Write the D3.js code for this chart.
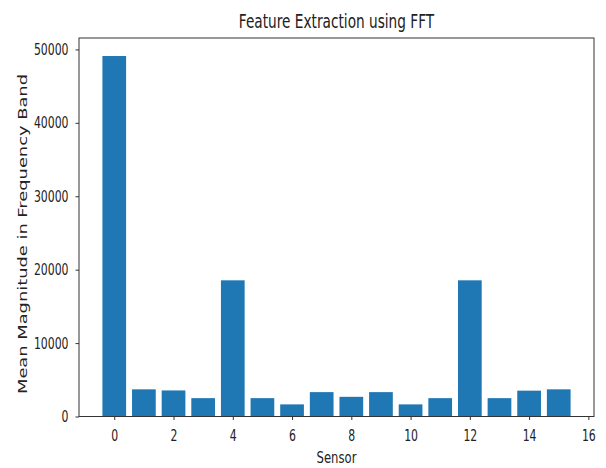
<!DOCTYPE html>
<html>
<head>
<meta charset="utf-8">
<script src="https://cdn.jsdelivr.net/npm/d3@7"></script>
<style>
  body { margin: 0; background: #fff; }
  text { font-family: "DejaVu Sans", sans-serif; fill: #222; }
</style>
</head>
<body>
<div id="app"></div>
<script>
(function (d3) {
  'use strict'

  // values
  const sensors = d3.range(16)
  const magnitudes = [49100, 3700, 3550, 2500, 18550, 2500, 1650, 3320, 2680, 3320, 1650, 2500, 18550, 2500, 3520, 3700]
  const xTicks = [0, 2, 4, 6, 8, 10, 12, 14, 16]
  const yTicks = [0, 10000, 20000, 30000, 40000, 50000]

  const w = 606
  const h = 468
  const m = { left: 79, right: 12, top: 38, bottom: 51.5 }
  const barWidth = 0.8

  const svg = d3.select('#app')
    .append('svg')
    .attr('width', w)
    .attr('height', h)

  // squeeze text horizontally like the reference
  const squeeze = function (sel, f) {
    sel.each(function () {
      const len = this.getComputedTextLength()
      this.setAttribute('textLength', len * f)
      this.setAttribute('lengthAdjust', 'spacingAndGlyphs')
    })
  }

  const pad = (sensors.length - 1 + barWidth) * 0.05
  const x = d3.scaleLinear()
    .domain([-barWidth / 2 - pad, sensors.length - 1 + barWidth / 2 + pad])
    .range([m.left, w - m.right])

  const y = d3.scaleLinear()
    .domain([0, d3.max(magnitudes) * 1.05])
    .range([h - m.bottom, m.top])

  svg.append('g')
    .selectAll('rect')
    .data(sensors)
    .enter()
    .append('rect')
    .attr('x', d => x(d - barWidth / 2))
    .attr('width', d => x(d + barWidth / 2) - x(d - barWidth / 2))
    .attr('y', d => y(magnitudes[d]))
    .attr('height', d => y(0) - y(magnitudes[d]))
    .attr('fill', '#1f77b4')

  const xAxis = svg.append('g')
    .attr('transform', 'translate(0,' + (h - m.bottom) + ')')
    .call(d3.axisBottom(x).tickValues(xTicks).tickSize(3.5).tickPadding(10).tickFormat(d3.format('d')))
  const yAxis = svg.append('g')
    .attr('transform', 'translate(' + m.left + ',0)')
    .call(d3.axisLeft(y).tickValues(yTicks).tickSize(3.5).tickPadding(7).tickFormat(d3.format('d')))

  for (const ax of [xAxis, yAxis]) {
    ax.select('.domain').remove()
    ax.selectAll('line').attr('stroke', '#333')
    ax.selectAll('text')
      .attr('font-family', '"DejaVu Sans", sans-serif')
      .attr('font-size', 16)
      .attr('fill', '#222')
      .call(squeeze, 0.68)
  }

  // frame
  svg.append('rect')
    .attr('x', m.left)
    .attr('y', m.top)
    .attr('width', w - m.right - m.left)
    .attr('height', h - m.bottom - m.top)
    .attr('fill', 'none')
    .attr('stroke', '#333')
    .attr('stroke-width', 1)

  svg.append('text')
    .attr('x', (m.left + w - m.right) / 2)
    .attr('y', 28)
    .attr('text-anchor', 'middle')
    .attr('font-size', 19)
    .text('Feature Extraction using FFT')
    .call(squeeze, 0.72)

  svg.append('text')
    .attr('x', (m.left + w - m.right) / 2)
    .attr('y', 463)
    .attr('text-anchor', 'middle')
    .attr('font-size', 16.4)
    .text('Sensor')
    .call(squeeze, 0.71)

  const yl = svg.append('text')
    .attr('transform', 'translate(27,234) rotate(-90)')
    .attr('text-anchor', 'middle')
    .attr('font-size', 13)
    .text('Mean Magnitude in Frequency Band')
  yl.attr('textLength', 320).attr('lengthAdjust', 'spacingAndGlyphs')

}(d3))
</script>
</body>
</html>
